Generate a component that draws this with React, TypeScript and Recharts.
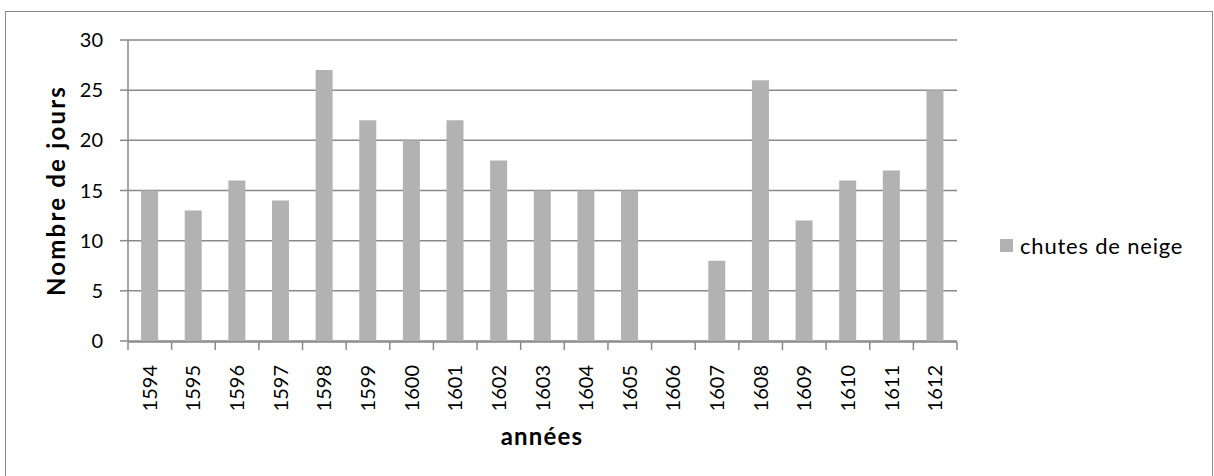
import { BarChart, Bar, XAxis, YAxis, CartesianGrid } from "recharts";

const years = [
  "1594", "1595", "1596", "1597", "1598", "1599", "1600", "1601", "1602", "1603",
  "1604", "1605", "1606", "1607", "1608", "1609", "1610", "1611", "1612",
];
const snowDays = [15, 13, 16, 14, 27, 22, 20, 22, 18, 15, 15, 15, 0, 8, 26, 12, 16, 17, 25];
const yTicks = [0, 5, 10, 15, 20, 25, 30];
const edgeTicks = years.map((_, i) => i).concat([years.length]);

const data = years.map((year, i) => ({ year, chutes: snowDays[i] }));

const FONT = "Lato, 'Open Sans', sans-serif";
const AXIS = "#898989";
const BAR = "#b2b2b2";

function YearTick(props: any) {
  const { x, y, payload } = props;
  return (
    <text
      x={0}
      y={0}
      transform={`translate(${x + 7},${y + 16}) rotate(-90)`}
      textAnchor="end"
      fontSize={20}
      fontFamily={FONT}
      fill="#000"
    >
      {payload.value}
    </text>
  );
}

export default function App() {
  return (
    <div style={{ position: "absolute", left: 0, top: 0, width: 1214, height: 476, background: "#fff", overflow: "hidden" }}>
      <div
        style={{
          position: "absolute",
          left: 5,
          top: 11,
          width: 1208,
          height: 480,
          border: "1.5px solid " + AXIS,
          boxSizing: "border-box",
        }}
      />
      <BarChart
        width={1214}
        height={476}
        data={data}
        margin={{ top: 40, right: 257, left: 68, bottom: 44 }}
        barCategoryGap="30%"
        style={{ fontFamily: FONT }}
      >
        <CartesianGrid vertical={false} stroke={AXIS} strokeWidth={1.5} />
        <XAxis
          dataKey="year"
          height={1}
          axisLine={false}
          tickLine={false}
          interval={0}
          tick={<YearTick />}
        />
        <XAxis
          xAxisId="edges"
          type="number"
          dataKey={() => 0}
          domain={[0, years.length]}
          ticks={edgeTicks}
          height={90}
          tickSize={8}
          stroke={AXIS}
          strokeWidth={1.5}
          tick={() => <g />}
          allowDataOverflow
        />
        <YAxis
          width={60}
          domain={[0, 30]}
          ticks={yTicks}
          tickSize={8}
          tickMargin={17}
          stroke={AXIS}
          strokeWidth={1.5}
          tick={{ fill: "#000", fontSize: 20, fontFamily: FONT }}
          label={{
            value: "Nombre de jours",
            angle: -90,
            position: "center",
            dx: -42,
            dy: 0,
            style: { fontWeight: "bold", fontSize: 24, letterSpacing: 2.2, fill: "#000", fontFamily: FONT },
          }}
        />
        <Bar dataKey="chutes" fill={BAR} isAnimationActive={false} />
      </BarChart>
      <div
        style={{
          position: "absolute",
          left: 1000,
          top: 232,
          display: "flex",
          alignItems: "center",
          fontFamily: FONT,
          fontSize: 22,
          letterSpacing: 0.8,
        }}
      >
        <span style={{ width: 13, height: 13, background: BAR, marginRight: 7 }} />
        <span>chutes de neige</span>
      </div>
      <div
        style={{
          position: "absolute",
          left: 542,
          top: 435,
          transform: "translate(-50%, -50%)",
          fontFamily: FONT,
          fontWeight: "bold",
          fontSize: 24,
          letterSpacing: 1.2,
        }}
      >
        années
      </div>
    </div>
  );
}
